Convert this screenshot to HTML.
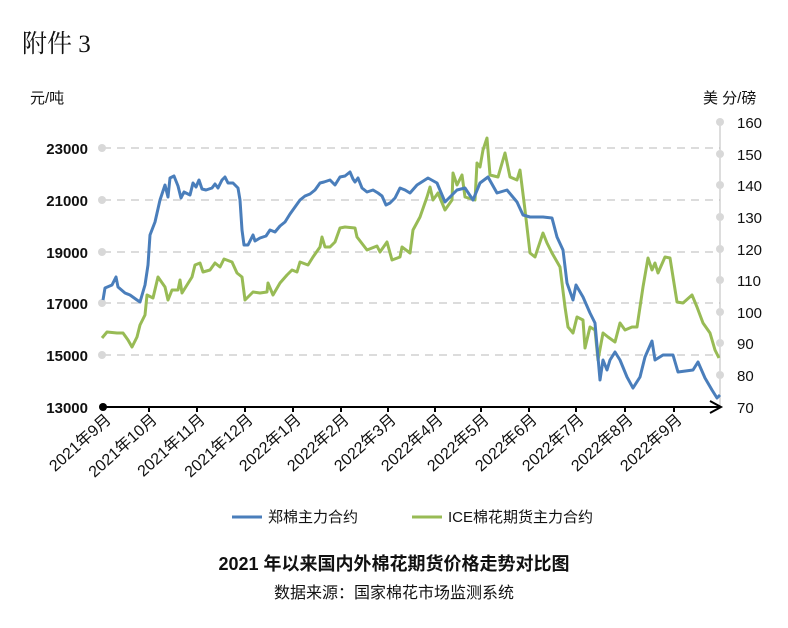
<!DOCTYPE html>
<html><head><meta charset="utf-8"><style>
body{margin:0;background:#fff;width:788px;height:628px;overflow:hidden}
svg{display:block}
text{font-family:"Liberation Sans","Noto Sans CJK SC",sans-serif;fill:#111}
</style></head><body>
<svg width="788" height="628" viewBox="0 0 788 628">
<text x="22" y="52" style="font-family:'Liberation Serif','Noto Serif CJK SC',serif;font-size:25px">附件 3</text>
<text x="30" y="103" font-size="15">元/吨</text>
<text x="703" y="103" font-size="15">美 分/磅</text>
<g stroke="#d0d0d0" stroke-width="1.5" stroke-dasharray="8,6">
<line x1="103" y1="148" x2="720" y2="148"/><line x1="103" y1="200" x2="720" y2="200"/>
<line x1="103" y1="252" x2="720" y2="252"/><line x1="103" y1="303" x2="720" y2="303"/>
<line x1="103" y1="355" x2="720" y2="355"/></g>
<line x1="720" y1="122" x2="720" y2="407" stroke="#bbb" stroke-width="1"/>
<g fill="#d8d8d8">
<circle cx="102" cy="148" r="4"/><circle cx="102" cy="200" r="4"/><circle cx="102" cy="252" r="4"/><circle cx="102" cy="303" r="4"/><circle cx="102" cy="355" r="4"/>
<circle cx="720" cy="122" r="4"/><circle cx="720" cy="154" r="4"/><circle cx="720" cy="185" r="4"/><circle cx="720" cy="217" r="4"/><circle cx="720" cy="249" r="4"/><circle cx="720" cy="280" r="4"/><circle cx="720" cy="312" r="4"/><circle cx="720" cy="343" r="4"/><circle cx="720" cy="375" r="4"/>
</g>
<g font-size="15" font-weight="bold" text-anchor="end" fill="#222">
<text x="88" y="154">23000</text><text x="88" y="206">21000</text><text x="88" y="258">19000</text><text x="88" y="309">17000</text><text x="88" y="361">15000</text><text x="88" y="413">13000</text></g>
<g font-size="15" fill="#222">
<text x="737" y="128">160</text><text x="737" y="160">150</text><text x="737" y="191">140</text><text x="737" y="223">130</text><text x="737" y="255">120</text><text x="737" y="286">110</text><text x="737" y="318">100</text><text x="737" y="349">90</text><text x="737" y="381">80</text><text x="737" y="413">70</text></g>
<polyline fill="none" stroke="#98bb55" stroke-width="3" stroke-linejoin="round" points="102,338 107,332 117,333 123,333 128,340 132,347 137,337 140,325 145,315 147,295 153,298 158,277 165,287 168,300 172,290 178,290 180,280 182,293 187,285 192,277 195,265 200,263 203,272 210,270 215,263 220,267 224,259 232,262 237,273 242,277 245,300 253,292 260,293 267,292 268,283 273,295 280,283 287,275 292,270 297,272 300,262 308,265 313,257 320,247 322,237 325,247 330,247 335,242 340,228 345,227 355,228 357,237 367,250 377,246 380,252 387,242 392,260 400,257 402,247 410,253 413,230 420,217 427,197 430,187 433,200 438,193 445,210 452,200 453,173 457,185 462,175 465,197 475,200 477,163 480,167 483,150 487,138 490,175 498,177 505,153 510,177 517,180 520,170 525,210 530,253 535,257 543,233 547,243 552,253 560,267 565,307 568,327 573,333 577,317 583,320 585,348 590,327 595,330 598,360 603,333 608,337 615,342 620,323 625,330 632,327 637,327 643,287 648,258 652,270 655,263 658,273 665,257 670,258 677,302 683,303 692,295 697,307 703,323 710,333 715,350 719,358"/>
<polyline fill="none" stroke="#4a7ebb" stroke-width="3" stroke-linejoin="round" points="103,300 105,288 112,285 116,277 118,287 125,293 130,295 137,300 140,302 145,285 148,265 150,235 155,222 160,200 165,185 168,197 170,178 174,176 178,186 181,198 184,192 190,195 193,183 196,187 199,180 202,189 206,190 212,188 215,184 218,188 222,180 225,177 228,183 233,183 238,188 240,200 242,230 244,245 248,245 253,235 255,241 260,238 263,237 266,236 270,230 275,232 280,226 285,222 290,214 295,207 300,200 305,196 310,194 315,190 320,183 324,182 330,180 335,185 340,177 345,176 350,172 353,179 355,182 358,178 362,188 367,192 373,190 378,193 382,196 386,205 390,203 395,198 400,188 405,190 410,193 417,185 428,178 437,183 445,202 457,190 465,188 473,200 480,183 488,177 497,193 507,190 517,202 523,215 530,217 543,217 552,218 557,237 563,250 567,283 573,300 576,285 583,297 590,313 595,323 600,380 603,360 607,370 610,360 615,352 620,360 627,377 633,388 640,377 645,357 652,341 655,360 663,355 673,355 678,372 693,370 698,362 705,378 712,390 717,398 720,395"/>
<line x1="103" y1="407" x2="720" y2="407" stroke="#000" stroke-width="2"/>
<circle cx="103" cy="407" r="4" fill="#000"/>
<polyline points="710,401 721,407 710,413" fill="none" stroke="#000" stroke-width="2"/>
<g stroke="#000" stroke-width="2">
<line x1="149" y1="407" x2="149" y2="412"/><line x1="197" y1="407" x2="197" y2="412"/><line x1="245" y1="407" x2="245" y2="412"/><line x1="293" y1="407" x2="293" y2="412"/><line x1="341" y1="407" x2="341" y2="412"/><line x1="388" y1="407" x2="388" y2="412"/><line x1="435" y1="407" x2="435" y2="412"/><line x1="481" y1="407" x2="481" y2="412"/><line x1="529" y1="407" x2="529" y2="412"/><line x1="576" y1="407" x2="576" y2="412"/><line x1="625" y1="407" x2="625" y2="412"/><line x1="674" y1="407" x2="674" y2="412"/></g>
<g font-size="16" text-anchor="end" fill="#222">
<text transform="translate(112,421) rotate(-42)">2021年9月</text>
<text transform="translate(158,421) rotate(-42)">2021年10月</text>
<text transform="translate(206,421) rotate(-42)">2021年11月</text>
<text transform="translate(254,421) rotate(-42)">2021年12月</text>
<text transform="translate(302,421) rotate(-42)">2022年1月</text>
<text transform="translate(350,421) rotate(-42)">2022年2月</text>
<text transform="translate(397,421) rotate(-42)">2022年3月</text>
<text transform="translate(444,421) rotate(-42)">2022年4月</text>
<text transform="translate(490,421) rotate(-42)">2022年5月</text>
<text transform="translate(538,421) rotate(-42)">2022年6月</text>
<text transform="translate(585,421) rotate(-42)">2022年7月</text>
<text transform="translate(634,421) rotate(-42)">2022年8月</text>
<text transform="translate(683,421) rotate(-42)">2022年9月</text></g>
<line x1="232" y1="517" x2="262" y2="517" stroke="#4a7ebb" stroke-width="3"/>
<text x="268" y="522" font-size="15" fill="#333">郑棉主力合约</text>
<line x1="412" y1="517" x2="442" y2="517" stroke="#98bb55" stroke-width="3"/>
<text x="448" y="522" font-size="15" fill="#333">ICE棉花期货主力合约</text>
<text x="394" y="570" font-size="18" font-weight="bold" text-anchor="middle">2021 年以来国内外棉花期货价格走势对比图</text>
<text x="394" y="598" font-size="16" text-anchor="middle">数据来源：国家棉花市场监测系统</text>
</svg>
</body></html>
